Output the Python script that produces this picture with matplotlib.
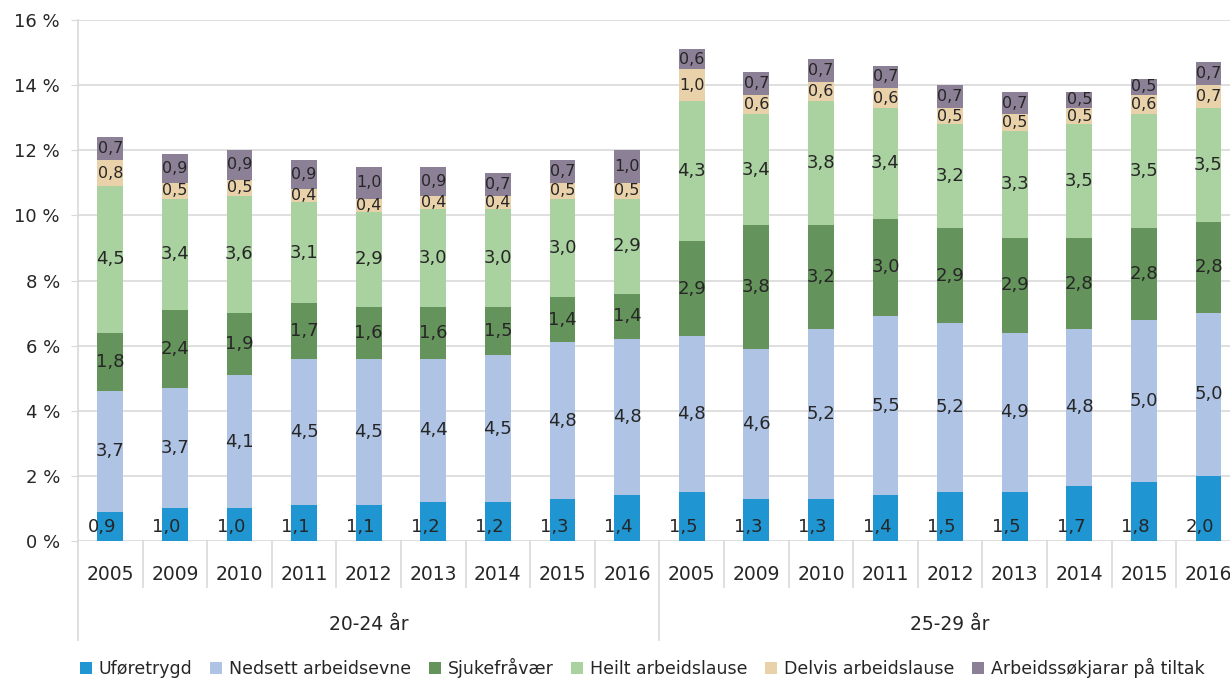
import matplotlib
matplotlib.use("Agg")
import matplotlib.pyplot as plt
import matplotlib.transforms as mtransforms
from matplotlib.patches import Patch
import numpy as np

years = ["2005", "2009", "2010", "2011", "2012", "2013", "2014", "2015", "2016"]
groups = ["20-24 år", "25-29 år"]
series = ["Uføretrygd", "Nedsett arbeidsevne", "Sjukefråvær",
          "Heilt arbeidslause", "Delvis arbeidslause", "Arbeidssøkjarar på tiltak"]

uforetrygd = [0.9, 1.0, 1.0, 1.1, 1.1, 1.2, 1.2, 1.3, 1.4,
              1.5, 1.3, 1.3, 1.4, 1.5, 1.5, 1.7, 1.8, 2.0]
nedsett = [3.7, 3.7, 4.1, 4.5, 4.5, 4.4, 4.5, 4.8, 4.8,
           4.8, 4.6, 5.2, 5.5, 5.2, 4.9, 4.8, 5.0, 5.0]
sjukefravaer = [1.8, 2.4, 1.9, 1.7, 1.6, 1.6, 1.5, 1.4, 1.4,
                2.9, 3.8, 3.2, 3.0, 2.9, 2.9, 2.8, 2.8, 2.8]
heilt = [4.5, 3.4, 3.6, 3.1, 2.9, 3.0, 3.0, 3.0, 2.9,
         4.3, 3.4, 3.8, 3.4, 3.2, 3.3, 3.5, 3.5, 3.5]
delvis = [0.8, 0.5, 0.5, 0.4, 0.4, 0.4, 0.4, 0.5, 0.5,
          1.0, 0.6, 0.6, 0.6, 0.5, 0.5, 0.5, 0.6, 0.7]
tiltak = [0.7, 0.9, 0.9, 0.9, 1.0, 0.9, 0.7, 0.7, 1.0,
          0.6, 0.7, 0.7, 0.7, 0.7, 0.7, 0.5, 0.5, 0.7]

colors = ["#1f95d2", "#afc3e5", "#64935b", "#a9d2a0", "#e9d1a9", "#8b8096"]
label_sizes = [13, 13, 13, 13, 11.5, 11.5]

data = [uforetrygd, nedsett, sjukefravaer, heilt, delvis, tiltak]

W, H = 1230, 681
fig = plt.figure(figsize=(W / 100, H / 100), dpi=100)
plt.rcParams['font.family'] = ['DejaVu Sans']

n = len(years) * len(groups)
cat_w = 64.6
left_px, bottom_px, top_px = 78, 541, 20
ax = fig.add_axes([left_px / W, (H - bottom_px) / H,
                   n * cat_w / W, (bottom_px - top_px) / H])

x = np.arange(n)
bottom = np.zeros(n)
for k, (vals, col) in enumerate(zip(data, colors)):
    vals = np.array(vals)
    ax.bar(x, vals, width=0.4, bottom=bottom, color=col, zorder=3,
           edgecolor="none")
    for i in range(n):
        txt = f"{vals[i]:.1f}".replace(".", ",")
        if k == 0:
            xi, yi = x[i] - 0.13, 0.42
        else:
            xi, yi = x[i], bottom[i] + vals[i] / 2
        ax.text(xi, yi, txt, ha="center", va="center", fontsize=label_sizes[k],
                color="#262626", zorder=5)
    bottom += vals

ax.set_xlim(-0.5, n - 0.5)
ax.set_ylim(0, 16)
ax.set_yticks(np.arange(0, 17, 2))
ax.set_yticklabels([f"{v} %" for v in range(0, 17, 2)], fontsize=13, color="#262626")
ax.tick_params(axis="y", length=5, color="#d9d9d9", pad=8)
ax.set_xticks([])
ax.grid(axis="y", color="#d9d9d9", linewidth=1.2, zorder=0)
for s in ["top", "right", "bottom"]:
    ax.spines[s].set_visible(False)
ax.spines["left"].set_color("#d9d9d9")
ax.spines["left"].set_linewidth(1.2)

# category axis
trans = mtransforms.blended_transform_factory(ax.transData, ax.transAxes)
ax_h = bottom_px - top_px
y_year_line = -(587 - bottom_px) / ax_h
y_group_line = -(640 - bottom_px) / ax_h
for b in range(n + 1):
    xb = b - 0.5
    ylow = y_group_line if b % len(years) == 0 else y_year_line
    ax.plot([xb, xb], [0, ylow], transform=trans, color="#d9d9d9",
            linewidth=1.2, clip_on=False)
for i in range(n):
    ax.text(x[i], -(575 - bottom_px) / ax_h, years[i % len(years)], transform=trans,
            ha="center", va="center", fontsize=13.5, color="#262626")
for g, name in enumerate(groups):
    xc = g * len(years) + (len(years) - 1) / 2
    ax.text(xc, -(624 - bottom_px) / ax_h, name, transform=trans,
            ha="center", va="center", fontsize=13.5, color="#262626")

handles = [Patch(facecolor=c, edgecolor="none") for c in colors]
fig.legend(handles, series, loc="center", bbox_to_anchor=(0.522, 1 - 668 / H),
           ncol=6, frameon=False, fontsize=12.5, handlelength=0.7, handleheight=0.7,
           handletextpad=0.4, columnspacing=1.0, labelcolor="#262626")

fig.savefig("out.png", dpi=100)
